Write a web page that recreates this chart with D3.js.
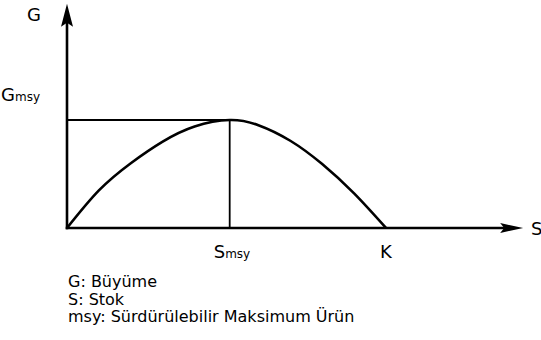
<!DOCTYPE html>
<html>
<head>
<meta charset="utf-8">
<script src="https://cdn.jsdelivr.net/npm/d3@7/dist/d3.min.js"></script>
<style>
  body { margin: 0; background: #fff; }
  svg { display: block; font-family: "DejaVu Sans", sans-serif; }
</style>
</head>
<body>
<div id="chart"></div>
<script>
// Data (stock in % of K, growth in arbitrary units)
const stock = [0, 10, 20, 30, 40, 51, 60, 70, 80, 90, 100]
const growth = [0, 8.7, 15, 20, 23.5, 25, 23.8, 20.2, 14.8, 8, 0]
const sMsy = 51
const gMsy = 25
const kValue = 100
const legendLines = ["G: Büyüme", "S: Stok", "msy: Sürdürülebilir Maksimum Ürün"]

// Dimensions
let dimensions = {
  width: 541,
  height: 340,
}

const svg = d3.select("#chart")
  .append("svg")
  .attr("width", dimensions.width)
  .attr("height", dimensions.height)

const x = d3.scaleLinear()
  .domain([0, kValue])
  .range([67, 386])

const y = d3.scaleLinear()
  .domain([0, gMsy])
  .range([228, 120])

const xMax = 143
const yMax = 51.9

// guide lines
svg.append("line")
  .attr("x1", x(0)).attr("x2", x(sMsy))
  .attr("y1", y(gMsy)).attr("y2", y(gMsy))
  .attr("stroke", "#000").attr("stroke-width", 1.8)

svg.append("line")
  .attr("x1", x(sMsy)).attr("x2", x(sMsy))
  .attr("y1", y(0)).attr("y2", y(gMsy))
  .attr("stroke", "#000").attr("stroke-width", 1.8)

// curve
const line = d3.line()
  .x((d, i) => x(stock[i]))
  .y(d => y(d))
  .curve(d3.curveNatural)

svg.append("path")
  .datum(growth)
  .attr("d", line)
  .attr("fill", "none")
  .attr("stroke", "#000")
  .attr("stroke-width", 2.6)

// axes
svg.append("line")
  .attr("x1", x(0)).attr("x2", x(0))
  .attr("y1", y(0) + 1.3).attr("y2", y(yMax) + 10)
  .attr("stroke", "#000").attr("stroke-width", 2.6)

svg.append("line")
  .attr("x1", x(0) - 1.3).attr("x2", x(xMax) - 10)
  .attr("y1", y(0)).attr("y2", y(0))
  .attr("stroke", "#000").attr("stroke-width", 2.6)

// arrowheads
const yt = [x(0), y(yMax)]
svg.append("path")
  .attr("d", `M${yt[0]},${yt[1]} L${yt[0] + 6},${yt[1] + 23} L${yt[0]},${yt[1] + 19} L${yt[0] - 6},${yt[1] + 23} Z`)
  .attr("fill", "#000")

const xt = [x(xMax), y(0)]
svg.append("path")
  .attr("d", `M${xt[0]},${xt[1]} L${xt[0] - 23},${xt[1] - 5} L${xt[0] - 19},${xt[1]} L${xt[0] - 23},${xt[1] + 5} Z`)
  .attr("fill", "#000")

// labels
const labels = svg.append("g").attr("fill", "#000")

labels.append("text")
  .attr("x", 27).attr("y", 21)
  .attr("font-size", 18)
  .text("G")

const gm = labels.append("text")
  .attr("x", 1).attr("y", 101)
  .attr("font-size", 18)
gm.append("tspan").text("G")
gm.append("tspan").attr("font-size", 12).text("msy")

const sm = labels.append("text")
  .attr("x", x(sMsy) - 16).attr("y", 258)
  .attr("font-size", 18)
sm.append("tspan").text("S")
sm.append("tspan").attr("font-size", 12).text("msy")

labels.append("text")
  .attr("x", x(kValue) - 6).attr("y", 258)
  .attr("font-size", 18)
  .text("K")

labels.append("text")
  .attr("x", 531).attr("y", 235)
  .attr("font-size", 18)
  .text("S")

// legend
labels.selectAll(".legend")
  .data(legendLines)
  .join("text")
  .attr("class", "legend")
  .attr("x", 68)
  .attr("y", (d, i) => 287 + i * 17.5)
  .attr("font-size", 16)
  .text(d => d)
</script>
</body>
</html>
